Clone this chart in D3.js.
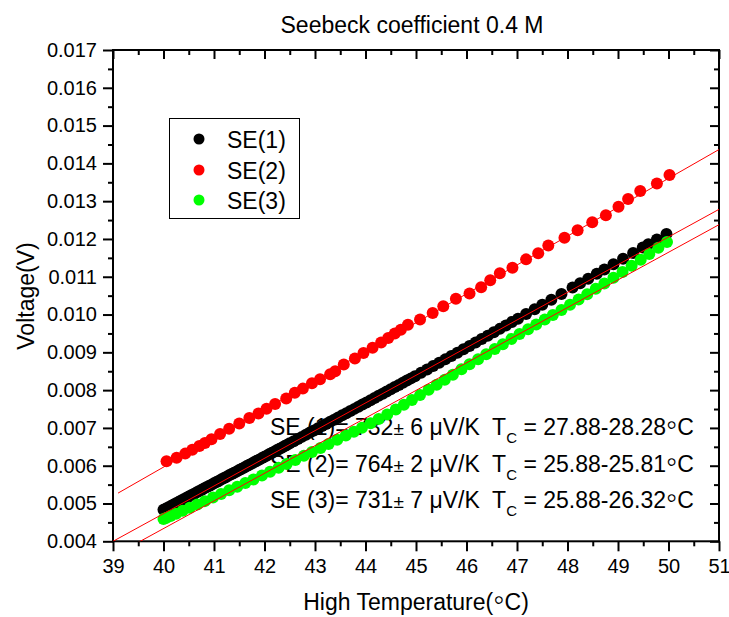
<!DOCTYPE html>
<html>
<head>
<meta charset="utf-8">
<script src="https://cdn.jsdelivr.net/npm/d3@7/dist/d3.min.js"></script>
<style>
  body { margin: 0; background: #fff; }
  svg { display: block; }
  text { font-family: "Liberation Sans", Arial, Helvetica, sans-serif; fill: #000; }
</style>
</head>
<body>
<svg id="chart" width="729" height="617"></svg>
<script>
// ---- axis ticks ----
const tempTicks = [39, 40, 41, 42, 43, 44, 45, 46, 47, 48, 49, 50, 51];
const tempMinor = [39.5, 40.5, 41.5, 42.5, 43.5, 44.5, 45.5, 46.5, 47.5, 48.5, 49.5, 50.5];
const voltTicks = [0.004, 0.005, 0.006, 0.007, 0.008, 0.009, 0.010, 0.011, 0.012, 0.013, 0.014, 0.015, 0.016, 0.017];
const voltMinor = [0.0045, 0.0055, 0.0065, 0.0075, 0.0085, 0.0095, 0.0105, 0.0115, 0.0125, 0.0135, 0.0145, 0.0155, 0.0165];

// ---- series: high-side temperature (°C) and voltage (mV) ----
const se1Temp = [40.00,40.05,40.10,40.15,40.20,40.25,40.30,40.35,40.40,40.45,40.50,40.55,40.60,40.65,40.70,40.75,40.80,40.85,40.90,40.95,
  41.00,41.05,41.10,41.15,41.20,41.25,41.30,41.35,41.40,41.45,41.50,41.55,41.60,41.65,41.70,41.75,41.80,41.85,41.90,41.95,
  42.00,42.05,42.10,42.15,42.20,42.25,42.30,42.35,42.40,42.45,42.50,42.58,42.66,42.74,42.82,42.90,42.98,43.06,43.14,43.22,
  43.30,43.38,43.46,43.54,43.62,43.70,43.78,43.86,43.94,44.02,44.10,44.18,44.26,44.34,44.42,44.50,44.58,44.66,44.74,44.82,
  44.90,44.98,45.10,45.22,45.34,45.46,45.58,45.70,45.82,45.94,46.06,46.18,46.30,46.42,46.54,46.66,46.78,46.90,47.02,47.18,
  47.35,47.50,47.68,47.88,48.10,48.25,48.41,48.58,48.73,48.91,49.10,49.30,49.49,49.60,49.77,49.96];
const se1mV = [4.832,4.867,4.902,4.937,4.972,5.008,5.043,5.078,5.113,5.148,5.183,5.218,5.253,5.288,5.323,5.358,5.394,5.429,5.464,5.499,
  5.534,5.569,5.604,5.639,5.674,5.710,5.745,5.780,5.815,5.850,5.885,5.920,5.955,5.990,6.025,6.060,6.096,6.131,6.166,6.201,
  6.236,6.272,6.307,6.343,6.378,6.414,6.450,6.485,6.521,6.556,6.592,6.649,6.706,6.763,6.820,6.877,6.934,6.991,7.048,7.105,
  7.162,7.219,7.276,7.333,7.390,7.447,7.504,7.561,7.618,7.675,7.733,7.791,7.849,7.906,7.964,8.022,8.080,8.138,8.196,8.253,
  8.311,8.369,8.458,8.547,8.636,8.725,8.814,8.903,8.992,9.081,9.170,9.260,9.350,9.440,9.530,9.621,9.711,9.801,9.891,10.013,
  10.142,10.257,10.394,10.546,10.714,10.828,10.950,11.080,11.194,11.331,11.476,11.628,11.773,11.857,11.986,12.131];

const se2Temp = [40.06,40.26,40.43,40.57,40.71,40.82,40.95,41.12,41.30,41.50,41.70,41.88,42.04,42.21,42.43,42.60,42.76,42.94,43.10,43.30,
  43.40,43.57,43.79,43.96,44.14,44.31,44.45,44.58,44.70,44.84,45.08,45.33,45.54,45.79,46.06,46.29,46.47,46.66,46.91,47.18,
  47.42,47.62,47.94,48.20,48.49,48.76,49.01,49.20,49.44,49.77,50.02];
const se2mV = [6.12,6.21,6.32,6.42,6.52,6.60,6.70,6.84,6.98,7.12,7.26,7.38,7.51,7.63,7.78,7.93,8.04,8.18,8.29,8.42,
  8.50,8.68,8.84,8.98,9.12,9.26,9.38,9.50,9.60,9.73,9.87,10.04,10.22,10.42,10.56,10.72,10.91,11.09,11.24,11.46,
  11.62,11.83,12.03,12.23,12.44,12.63,12.85,13.06,13.27,13.47,13.69];

const se3Temp = [40.00,40.06,40.14,40.25,40.38,40.52,40.67,40.82,40.98,41.14,41.30,41.46,41.62,41.78,41.95,42.11,42.28,42.44,42.61,42.78,
  42.94,43.11,43.27,43.44,43.61,43.77,43.93,44.10,44.26,44.43,44.60,44.76,44.92,45.08,45.25,45.41,45.57,45.73,45.90,46.06,
  46.23,46.39,46.56,46.72,46.89,47.05,47.22,47.38,47.55,47.71,47.88,48.05,48.22,48.39,48.56,48.73,48.91,49.09,49.27,49.45,
  49.62,49.80,49.97];
const se3mV = [4.587,4.622,4.668,4.732,4.808,4.889,4.976,5.063,5.156,5.252,5.348,5.444,5.540,5.637,5.739,5.838,5.946,6.047,6.154,6.261,
  6.362,6.471,6.575,6.687,6.797,6.901,7.006,7.122,7.236,7.356,7.486,7.613,7.739,7.868,8.010,8.143,8.276,8.409,8.550,8.682,
  8.819,8.949,9.087,9.217,9.355,9.483,9.614,9.737,9.868,9.991,10.122,10.257,10.398,10.539,10.680,10.822,10.971,11.127,11.289,11.452,
  11.604,11.767,11.920];

// ---- linear fits: slope (µV/K), error, intercept (mV at 0 °C), cold-side range ----
const seriesNames = ["SE(1)", "SE(2)", "SE(3)"];
const fitNames = ["SE (1)", "SE (2)", "SE (3)"];
const seColors = ["#000000", "#ff0000", "#00ff00"];
const fitSlopes = [732, 764, 731];
const fitErrors = [6, 2, 7];
const fitInterceptsmV = [-24.548, -24.597, -24.903];
const fitStartTemp = [39.0, 39.1, 39.0];
const coldRanges = ["27.88-28.28", "25.88-25.81", "25.88-26.32"];

const svg = d3.select("#chart");
svg.append("rect").attr("width", 729).attr("height", 617).attr("fill", "#fff");

const plot = { left: 113, right: 719, top: 50, bottom: 541.3 };
const x = d3.scaleLinear().domain([39, 51]).range([plot.left, plot.right]);
const y = d3.scaleLinear().domain([0.004, 0.017]).range([plot.bottom, plot.top]);

svg.append("clipPath").attr("id", "plotClip")
  .append("rect")
  .attr("x", plot.left).attr("y", plot.top)
  .attr("width", plot.right - plot.left).attr("height", plot.bottom - plot.top);

// ---- axes: outward ticks left/bottom, inward ticks top/right ----
function styleAxis(g) {
  g.select(".domain").remove();
  g.selectAll(".tick line").attr("stroke", "#000").attr("stroke-width", 2);
  g.selectAll(".tick text").style("font-size", "20px").attr("fill", "#000");
}
const fmtV = d3.format(".3f");

svg.append("g").attr("transform", `translate(0,${plot.bottom})`)
  .call(d3.axisBottom(x).tickValues(tempTicks).tickSize(10).tickPadding(8).tickFormat(d3.format("d")))
  .call(styleAxis);
svg.append("g").attr("transform", `translate(0,${plot.bottom})`)
  .call(d3.axisBottom(x).tickValues(tempMinor).tickSize(5).tickFormat(""))
  .call(styleAxis);
svg.append("g").attr("transform", `translate(0,${plot.top})`)
  .call(d3.axisTop(x).tickValues(tempTicks).tickSize(-9).tickFormat(""))
  .call(styleAxis);
svg.append("g").attr("transform", `translate(0,${plot.top})`)
  .call(d3.axisTop(x).tickValues(tempMinor).tickSize(-5).tickFormat(""))
  .call(styleAxis);

svg.append("g").attr("transform", `translate(${plot.left},0)`)
  .call(d3.axisLeft(y).tickValues(voltTicks).tickSize(10).tickPadding(6).tickFormat(fmtV))
  .call(styleAxis);
svg.append("g").attr("transform", `translate(${plot.left},0)`)
  .call(d3.axisLeft(y).tickValues(voltMinor).tickSize(5).tickFormat(""))
  .call(styleAxis);
svg.append("g").attr("transform", `translate(${plot.right},0)`)
  .call(d3.axisRight(y).tickValues(voltTicks).tickSize(-9).tickFormat(""))
  .call(styleAxis);
svg.append("g").attr("transform", `translate(${plot.right},0)`)
  .call(d3.axisRight(y).tickValues(voltMinor).tickSize(-5).tickFormat(""))
  .call(styleAxis);

// frame
svg.append("rect")
  .attr("x", plot.left).attr("y", plot.top)
  .attr("width", plot.right - plot.left).attr("height", plot.bottom - plot.top)
  .attr("fill", "none").attr("stroke", "#000").attr("stroke-width", 2);

// degree ring drawn as a mid-height hollow bullet, followed by the unit letter
function degreeC(t, tail) {
  t.append("tspan").style("font-size", "32px").text("◦");
  t.append("tspan").text("C" + tail);
}

// ---- annotations (slope and cold-side temperature) ----
const annoBaselines = [435, 471.5, 508];
fitNames.forEach((name, i) => {
  const t = svg.append("text")
    .attr("x", 270).attr("y", annoBaselines[i])
    .style("font-size", "23px")
    .style("white-space", "pre");
  t.append("tspan").text(`${name}= ${fitSlopes[i]}`);
  t.append("tspan").style("font-size", "19px").text("±");
  t.append("tspan").text(` ${fitErrors[i]} `);
  t.append("tspan").text("μ");
  t.append("tspan").text("V/K  T");
  t.append("tspan").style("font-size", "15px").attr("dy", 8).text("C");
  t.append("tspan").attr("dy", -8).text(` = ${coldRanges[i]}`);
  degreeC(t, "");
});

// ---- data points ----
const seriesTemps = [se1Temp, se2Temp, se3Temp];
const seriesmV = [se1mV, se2mV, se3mV];
const markers = svg.append("g").attr("clip-path", "url(#plotClip)");
seriesTemps.forEach((temps, i) => {
  const pts = temps.map((t, k) => ({ t, v: seriesmV[i][k] / 1000 }));
  markers.append("g").selectAll("circle").data(pts).join("circle")
    .attr("cx", d => x(d.t)).attr("cy", d => y(d.v))
    .attr("r", 6).attr("fill", seColors[i]);
});

// ---- fit lines ----
const fits = svg.append("g").attr("clip-path", "url(#plotClip)");
const fitLine = d3.line().x(d => x(d[0])).y(d => y(d[1]));
fitSlopes.forEach((s, i) => {
  const f = T => (s / 1000 * T + fitInterceptsmV[i]) / 1000;
  const ends = [[fitStartTemp[i], f(fitStartTemp[i])], [51, f(51)]];
  fits.append("path").attr("d", fitLine(ends))
    .attr("fill", "none").attr("stroke", "#ff0000").attr("stroke-width", 1);
});

// ---- legend ----
const legend = svg.append("g");
legend.append("rect").attr("x", 169.5).attr("y", 118.5).attr("width", 130).attr("height", 100)
  .attr("fill", "#fff").attr("stroke", "#000").attr("stroke-width", 1);
const legendY = [139, 170, 200];
seriesNames.forEach((n, i) => {
  legend.append("circle").attr("cx", 199).attr("cy", legendY[i]).attr("r", 5.5).attr("fill", seColors[i]);
  legend.append("text").attr("x", 227).attr("y", legendY[i] + 8.5).style("font-size", "23px").text(n);
});

// ---- titles ----
svg.append("text").attr("x", 412).attr("y", 33).attr("text-anchor", "middle")
  .style("font-size", "23px").text("Seebeck coefficient 0.4 M");

const xTitle = svg.append("text").attr("x", 416).attr("y", 610).attr("text-anchor", "middle")
  .style("font-size", "23px");
xTitle.append("tspan").text("High Temperature(");
degreeC(xTitle, ")");

svg.append("text").attr("transform", "translate(34,296) rotate(-90)").attr("text-anchor", "middle")
  .style("font-size", "23px").text("Voltage(V)");
</script>
</body>
</html>
